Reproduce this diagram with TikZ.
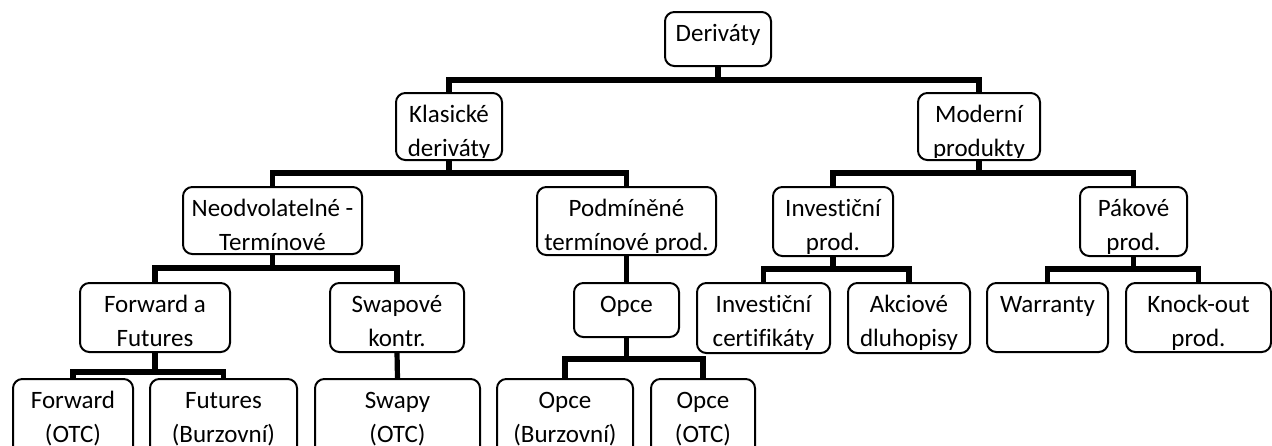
\documentclass[tikz,border=0pt]{standalone}
\usepackage{fontspec}
\setmainfont[Ligatures=CommonOff]{Carlito}
\usetikzlibrary{calc}

% one unit = one pixel of the chart, y growing downwards
\tikzset{
  orgnode/.style={draw=black, line width=1.5pt, rounded corners=7pt, fill=white,
    inner sep=0pt, outer sep=0pt},
  lbl/.style={anchor=base, inner sep=0pt, outer sep=0pt,
    font=\fontsize{18.75}{22}\selectfont},
  conn/.style={draw=black, line width=3.9pt, line join=miter, line cap=rect},
}

% \orgbox{name}{x1}{y1}{x2}{y2}{first line}{second line}
% the text is cut off by the inside of the box
\newcommand\orgbox[7]{%
  \node[orgnode, anchor=north west,
        minimum width={(#4-#2)*0.75pt}, minimum height={(#5-#3)*0.75pt}]
        (#1) at (#2,#3) {};
  \begin{scope}
    \clip ($(#1.south west)+(2,-3)$) rectangle ($(#1.north east)+(-2,2)$);
    \node[lbl] (#1-a) at ($(#1.north)+(0,29)$) {#6};
    \node[lbl] (#1-b) at ($(#1.north)+(0,63)$) {#7};
  \end{scope}}

\begin{document}
\begin{tikzpicture}[x=0.75pt, y=-0.75pt]
\useasboundingbox (0,0) rectangle (1272,446);
\clip (0,0) rectangle (1272,446);

% heights of the horizontal bars
\coordinate (b1) at (0,80);
\coordinate (b2) at (0,173);
\coordinate (b3) at (0,268);
\coordinate (b3r) at (0,269);
\coordinate (b4) at (0,372);
\coordinate (b4o) at (0,359);

% boxes are placed first so the connectors can refer to them,
% connectors are then drawn on the background layer
\orgbox{der}{665}{12}{771}{66}{Deriváty}{}
\orgbox{kla}{396}{93}{502}{160}{Klasické}{deriváty}
\orgbox{mod}{918}{93}{1040}{160}{Moderní}{produkty}
\orgbox{neo}{183}{187}{362}{254}{Neodvolatelné -}{Termínové}
\orgbox{pod}{537}{187}{716}{255}{Podmíněné}{termínové prod.}
\orgbox{inv}{773}{187}{893}{256}{Investiční}{prod.}
\orgbox{pak}{1080}{187}{1187}{256}{Pákové}{prod.}
\orgbox{faf}{80}{283}{230}{352}{Forward a}{Futures}
\orgbox{swk}{330}{283}{464}{352}{Swapové}{kontr.}
\orgbox{opc}{574}{283}{679}{337}{Opce}{}
\orgbox{ivc}{697}{283}{830}{353}{Investiční}{certifikáty}
\orgbox{akc}{848}{283}{970}{353}{Akciové}{dluhopisy}
\orgbox{war}{987}{283}{1108}{352}{Warranty}{}
\orgbox{kno}{1126}{283}{1271}{352}{Knock-out}{prod.}
\orgbox{fwo}{13}{379}{133}{460}{Forward}{(OTC)}
\orgbox{fub}{150}{379}{297}{460}{Futures}{(Burzovní)}
\orgbox{swp}{315}{379}{480}{460}{Swapy}{(OTC)}
\orgbox{opb}{497}{379}{633}{460}{Opce}{(Burzovní)}
\orgbox{opo}{651}{379}{755}{460}{Opce}{(OTC)}

\pgfdeclarelayer{bg}
\pgfsetlayers{bg,main}
\begin{pgfonlayer}{bg}
  \draw[conn] (der.south) -- (der.south |- b1) -| (kla.north);
  \draw[conn] (der.south) -- (der.south |- b1) -| (mod.north);
  \draw[conn] (kla.south) -- (kla.south |- b2) -| (neo.north);
  \draw[conn] (kla.south) -- (kla.south |- b2) -| (pod.north);
  \draw[conn] (mod.south) -- (mod.south |- b2) -| (inv.north);
  \draw[conn] (mod.south) -- (mod.south |- b2) -| (pak.north);
  \draw[conn] (neo.south) -- (neo.south |- b3) -| (faf.north);
  \draw[conn] (neo.south) -- (neo.south |- b3) -| (swk.north);
  \draw[conn] (pod.south) -- (opc.north);
  \draw[conn] (inv.south) -- (inv.south |- b3r) -| (ivc.north);
  \draw[conn] (inv.south) -- (inv.south |- b3r) -| (akc.north);
  \draw[conn] (pak.south) -- (pak.south |- b3r) -| (war.north);
  \draw[conn] (pak.south) -- (pak.south |- b3r) -| (kno.north);
  \draw[conn] (faf.south) -- (faf.south |- b4) -| (fwo.north);
  \draw[conn] (faf.south) -- (faf.south |- b4) -| (fub.north);
  \draw[conn] (swk.south) -- (swp.north);
  \draw[conn] (opc.south) -- (opc.south |- b4o) -| (opb.north);
  \draw[conn] (opc.south) -- (opc.south |- b4o) -| (opo.north);
\end{pgfonlayer}
\end{tikzpicture}
\end{document}
